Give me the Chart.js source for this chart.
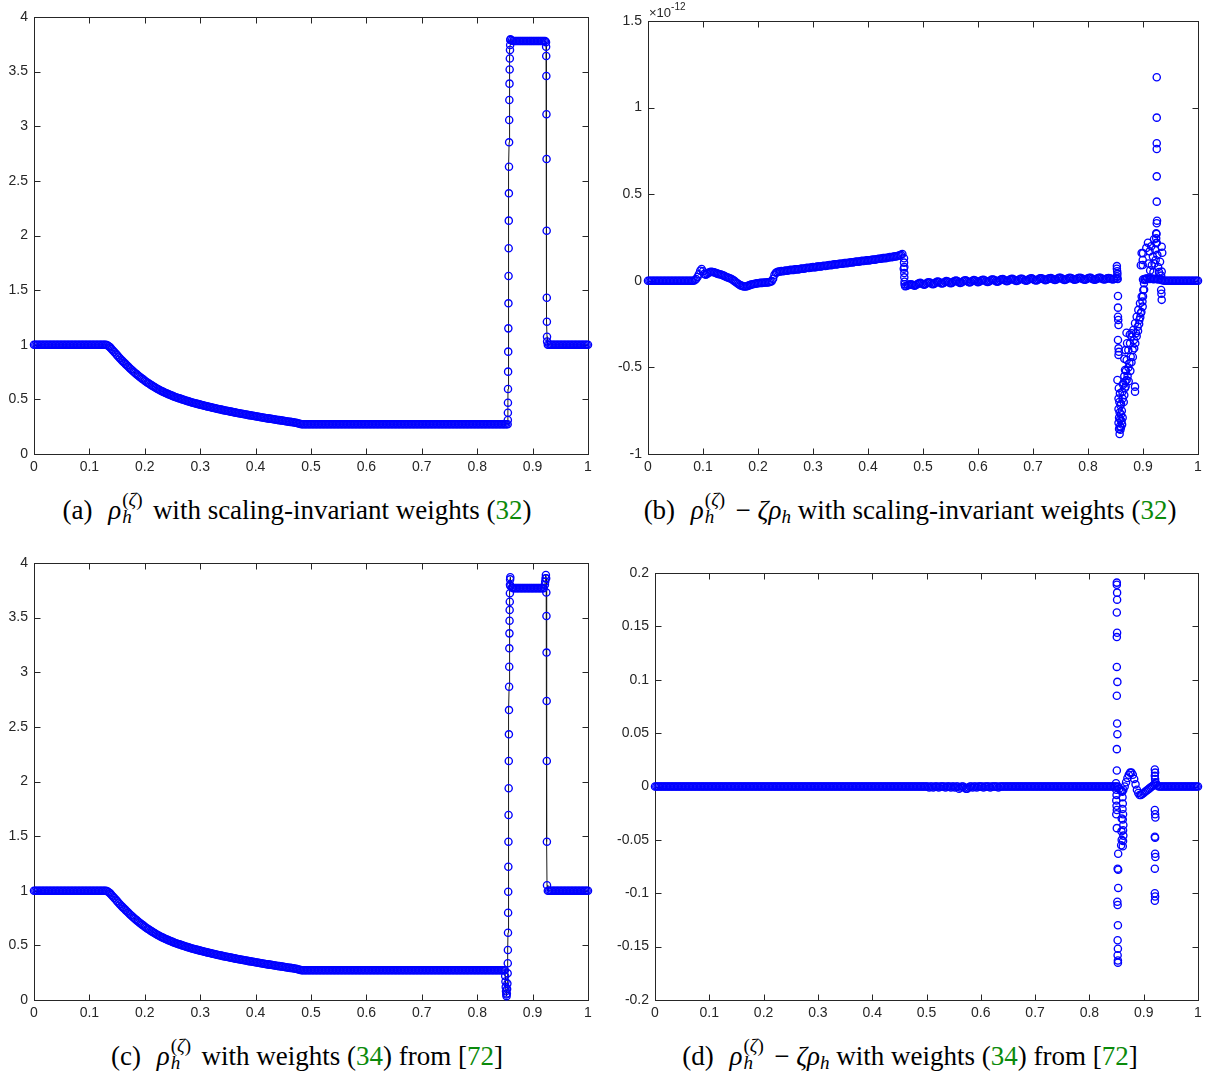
<!DOCTYPE html>
<html>
<head>
<meta charset="utf-8">
<script src="https://cdn.jsdelivr.net/npm/chart.js@4.4.1/dist/chart.umd.min.js"></script>
<style>
html, body { margin: 0; padding: 0; background: #fff; }
body { width: 1208px; height: 1080px; position: relative; overflow: hidden; }
.panel { position: absolute; }
.panel canvas { display: block; }
.cap { position: absolute; width: 600px; text-align: center; white-space: nowrap;
  font-family: "Liberation Serif", "Times New Roman", serif; font-size: 27px; line-height: 30px; color: #000; }
.cap i { font-style: italic; }
.ss { position: relative; display: inline-block; width: 25px; height: 1px; }
.ss .sp, .ss .sb { position: absolute; left: 1px; font-size: 19px; line-height: 19px; }
.ss .sp { bottom: 10.5px; }
.ss .sb { bottom: -7px; }
.lab { margin-right: 9px; }
.ref { color: #0b8a0b; }
.sub2 { font-size: 19px; line-height: 0; position: relative; top: 4px; }
</style>
</head>
<body>
<div class="panel" style="left:0;top:0"><canvas id="pa" width="600" height="480"></canvas></div>
<div class="panel" style="left:604px;top:0"><canvas id="pb" width="604" height="480"></canvas></div>
<div class="panel" style="left:0;top:546px"><canvas id="pc" width="600" height="480"></canvas></div>
<div class="panel" style="left:604px;top:546px"><canvas id="pd" width="604" height="480"></canvas></div>

<div class="cap" style="left:-3px;top:495px"><span class="lab">(a)</span> <i>ρ</i><span class="ss"><span class="sp">(<i>ζ</i>)</span><span class="sb"><i>h</i></span></span> with scaling-invariant weights (<span class="ref">32</span>)</div>
<div class="cap" style="left:610px;top:495px"><span class="lab">(b)</span> <i>ρ</i><span class="ss"><span class="sp">(<i>ζ</i>)</span><span class="sb"><i>h</i></span></span> − <i>ζρ</i><span class="sub2"><i>h</i></span> with scaling-invariant weights (<span class="ref">32</span>)</div>
<div class="cap" style="left:7px;top:1041px"><span class="lab">(c)</span> <i>ρ</i><span class="ss"><span class="sp">(<i>ζ</i>)</span><span class="sb"><i>h</i></span></span> with weights (<span class="ref">34</span>) from [<span class="ref">72</span>]</div>
<div class="cap" style="left:610px;top:1041px"><span class="lab">(d)</span> <i>ρ</i><span class="ss"><span class="sp">(<i>ζ</i>)</span><span class="sb"><i>h</i></span></span> − <i>ζρ</i><span class="sub2"><i>h</i></span> with weights (<span class="ref">34</span>) from [<span class="ref">72</span>]</div>

<script>
// ---------------------------------------------------------------------------
// Grid: nodes of the uniform mesh on [0, 1]
const meshCells = 400;
const xMesh = Array.from({ length: meshCells + 1 }, (_, i) => i / meshCells);

// Tick values and their printed labels
const xTickValues = [0, 0.1, 0.2, 0.3, 0.4, 0.5, 0.6, 0.7, 0.8, 0.9, 1];
const xTickLabels = ['0', '0.1', '0.2', '0.3', '0.4', '0.5', '0.6', '0.7', '0.8', '0.9', '1'];
const rhoTickValues = [0, 0.5, 1, 1.5, 2, 2.5, 3, 3.5, 4];
const rhoTickLabels = ['0', '0.5', '1', '1.5', '2', '2.5', '3', '3.5', '4'];
const errBTickValues = [-1, -0.5, 0, 0.5, 1, 1.5];
const errBTickLabels = ['-1', '-0.5', '0', '0.5', '1', '1.5'];
const errDTickValues = [-0.2, -0.15, -0.1, -0.05, 0, 0.05, 0.1, 0.15, 0.2];
const errDTickLabels = ['-0.2', '-0.15', '-0.1', '-0.05', '0', '0.05', '0.1', '0.15', '0.2'];

// ---------------------------------------------------------------------------
// Density on the mesh. A null marks the nodes inside a discontinuity; the
// resolved points across that jump are listed separately below.
const rhoLeftState = [
  1,1,1,1,1,1,1,1,1,1, 1,1,1,1,1,1,1,1,1,1, 1,1,1,1,1,1,1,1,1,1,
  1,1,1,1,1,1,1,1,1,1, 1,1,1,1,1,1,1,1,1,1, 1,1,1
];
// rarefaction fan, x = 0.1325 ... 0.48
const rhoFan = [
  0.995,0.987,0.976,0.962, 0.948,0.934,0.919,0.905, 0.891,0.877,0.863,0.850,
  0.837,0.825,0.812,0.800, 0.788,0.776,0.764,0.752, 0.741,0.731,0.720,0.710,
  0.700,0.690,0.681,0.671, 0.662,0.653,0.645,0.636, 0.628,0.620,0.613,0.605,
  0.598,0.591,0.584,0.577, 0.571,0.565,0.559,0.553, 0.548,0.542,0.537,0.532,
  0.527,0.522,0.518,0.513, 0.509,0.505,0.500,0.496, 0.492,0.488,0.484,0.480,
  0.476,0.472,0.469,0.465, 0.462,0.459,0.455,0.452, 0.449,0.446,0.442,0.439,
  0.436,0.433,0.430,0.427, 0.424,0.421,0.418,0.415, 0.412,0.410,0.407,0.404,
  0.401,0.399,0.396,0.393, 0.391,0.388,0.386,0.383, 0.381,0.378,0.376,0.373,
  0.371,0.368,0.366,0.363, 0.361,0.359,0.356,0.354, 0.352,0.350,0.347,0.345,
  0.343,0.341,0.338,0.336, 0.334,0.332,0.330,0.328, 0.326,0.324,0.322,0.320,
  0.318,0.316,0.314,0.312, 0.310,0.308,0.306,0.304, 0.302,0.300,0.298,0.296,
  0.294,0.292,0.290,0.288, 0.286,0.283,0.280,0.277
];
// state between the fan and the first jump (scaling-invariant weights)
const rhoLowA = [
  0.273,0.273,0.273,0.273,0.273,0.273,0.273,0.273,0.273,0.273,
  0.273,0.273,0.273,0.273,0.273,0.273,0.273,0.273,0.273,0.273,
  0.273,0.273,0.273,0.273,0.273,0.273,0.273,0.273,0.273,0.273,
  0.273,0.273,0.273,0.273,0.273,0.273,0.273,0.273,0.273,0.273,
  0.273,0.273,0.273,0.273,0.273,0.273,0.273,0.273,0.273,0.273,
  0.273,0.273,0.273,0.273,0.273,0.273,0.273,0.273,0.273,0.273,
  0.273,0.273,0.273,0.273,0.273,0.273,0.273,0.273,0.273,0.273,
  0.273,0.273,0.273,0.273,0.273,0.273,0.273,0.273,0.273,0.273,
  0.273,0.273,0.273,0.273,0.273,0.273,0.273,0.273,0.273,0.273,
  0.273,0.273,0.273,0.273,0.273,0.273,0.273,0.273,0.273,0.273,
  0.273,0.273,0.273,0.273,0.273,0.273,0.273,0.273,0.273,0.273,
  0.273,0.273,0.273,0.273,0.273,0.273,0.273,0.273,0.273,0.273,
  0.273,0.273,0.273,0.273,0.273,0.273,0.273,0.273,0.273,0.273,
  0.273,0.273,0.273,0.273,0.273,0.273,0.273,0.273,0.273,0.273,
  0.273,0.273,0.273,0.273,0.273,0.273,0.273,0.273,0.273,0.273
];
const rhoHighA = [
  3.795,3.785,3.78,3.78,3.78,3.78,3.78,3.78,3.78,3.78,3.78,3.78,3.78,
  3.78,3.78,3.78,3.78,3.78,3.78,3.78,3.78,3.78,3.78,3.78,3.78,3.78
];
const rhoRightState = [
  1,1,1,1,1,1,1,1,1,1, 1,1,1,1,1,1,1,1,1,1, 1,1,1,1,1,1,1,1,1,1
];
// points resolved across the two jumps (a)
const jumpA1X = [0.8553,0.8554,0.8555,0.8556,0.8558,0.856,0.8562,0.8564,0.8566,0.8568,0.857,
  0.8572,0.8574,0.8576,0.8578,0.858,0.8583,0.8586,0.8589,0.8592,0.8595,0.8598];
const jumpA1Y = [0.311,0.378,0.47,0.595,0.754,0.937,1.15,1.379,1.629,1.883,2.136,
  2.386,2.63,2.853,3.057,3.24,3.39,3.52,3.62,3.698,3.744,3.79];
const jumpA2X = [0.9242,0.9244,0.9246,0.9248,0.925,0.9252,0.9254,0.9256,0.9258,0.926,0.9262];
const jumpA2Y = [3.77,3.728,3.643,3.46,3.11,2.70,2.044,1.43,1.211,1.074,1.03];

// weights (34)
const rhoLowC = [
  0.273,0.273,0.273,0.273,0.273,0.273,0.273,0.273,0.273,0.273,
  0.273,0.273,0.273,0.273,0.273,0.273,0.273,0.273,0.273,0.273,
  0.273,0.273,0.273,0.273,0.273,0.273,0.273,0.273,0.273,0.273,
  0.273,0.273,0.273,0.273,0.273,0.273,0.273,0.273,0.273,0.273,
  0.273,0.273,0.273,0.273,0.273,0.273,0.273,0.273,0.273,0.273,
  0.273,0.273,0.273,0.273,0.273,0.273,0.273,0.273,0.273,0.273,
  0.273,0.273,0.273,0.273,0.273,0.273,0.273,0.273,0.273,0.273,
  0.273,0.273,0.273,0.273,0.273,0.273,0.273,0.273,0.273,0.273,
  0.273,0.273,0.273,0.273,0.273,0.273,0.273,0.273,0.273,0.273,
  0.273,0.273,0.273,0.273,0.273,0.273,0.273,0.273,0.273,0.273,
  0.273,0.273,0.273,0.273,0.273,0.273,0.273,0.273,0.273,0.273,
  0.273,0.273,0.273,0.273,0.273,0.273,0.273,0.273,0.273,0.273,
  0.273,0.273,0.273,0.273,0.273,0.273,0.273,0.273,0.273,0.273,
  0.273,0.273,0.273,0.273,0.273,0.273,0.273,0.273,0.273,0.273,
  0.273,0.273,0.273,0.273,0.273,0.273,0.273,0.273
];
const rhoHighC = [
  3.79,3.775,3.77,3.77,3.77,3.77,3.77,3.77,3.77,3.77,3.77,3.77,3.77,
  3.77,3.77,3.77,3.77,3.77,3.77,3.77,3.77,3.77,3.77,3.77,3.77
];
const jumpC1X = [0.8505,0.851,0.8515,0.852,0.8525,0.853,0.8535,0.854,0.8545,0.855,0.8552,0.8554,
  0.8556,0.8558,0.856,0.8562,0.8564,0.8566,0.8568,0.857,0.8572,0.8574,0.8576,0.8578,0.858,
  0.8582,0.8584,0.8586,0.8588,0.859,0.8592,0.8594,0.8597];
const jumpC1Y = [0.22,0.17,0.12,0.08,0.05,0.035,0.06,0.1,0.15,0.244,0.336,0.458,
  0.616,0.799,0.991,1.22,1.449,1.693,1.938,2.188,2.432,2.654,2.868,3.051,3.219,
  3.356,3.472,3.57,3.646,3.723,3.80,3.85,3.87];
const jumpC2X = [0.9222,0.9228,0.9234,0.924,0.9245,0.9248,0.925,0.9252,0.9254,0.9256,0.9258,0.926];
const jumpC2Y = [3.80,3.83,3.86,3.89,3.86,3.73,3.515,3.18,2.737,2.188,1.449,1.05];

const rhoA = [...rhoLeftState, ...rhoFan, ...rhoLowA, null, ...rhoHighA, null, ...rhoRightState];
const rhoC = [...rhoLeftState, ...rhoFan, ...rhoLowC, null, null, null, ...rhoHighC, null, null, ...rhoRightState];

// ---------------------------------------------------------------------------
// Difference rho_h^(zeta) - zeta*rho_h, scaling-invariant weights, in units of 1e-12
const errBQuiet = [
  0,0,0,0,0,0,0,0,0,0, 0,0,0,0,0,0,0,0,0,0, 0,0,0,0,0,0,0,0,0,0, 0,0,0
];
const errBHead = [
  0.000,0.003,0.010,0.022,0.038,0.058,0.068,0.055,0.040,0.035,
  0.040,0.046,0.050,0.052,0.051,0.049,0.046,0.043,0.040,0.038,
  0.036,0.033,0.030,0.026,0.022,0.019,0.016,0.013,0.009,0.004,
  -0.002,-0.008,-0.014,-0.020,-0.025,-0.028,-0.031,-0.033,-0.033,-0.031,
  -0.028,-0.025,-0.022,-0.020,-0.018,-0.017,-0.015,-0.014,-0.013,-0.012,
  -0.012,-0.011,-0.010,-0.010,-0.009,-0.008,-0.006,-0.002,0.012,0.035
];
const errBRamp = [
  0.046,0.050,0.053,0.054, 0.056,0.055,0.057,0.059, 0.058,0.059,0.062,0.063,
  0.062,0.063,0.066,0.067, 0.066,0.067,0.070,0.071, 0.070,0.071,0.074,0.075,
  0.074,0.075,0.078,0.079, 0.078,0.079,0.082,0.083, 0.082,0.083,0.086,0.087,
  0.086,0.087,0.090,0.091, 0.090,0.092,0.094,0.095, 0.094,0.096,0.098,0.099,
  0.098,0.100,0.102,0.103, 0.102,0.104,0.106,0.107, 0.106,0.108,0.110,0.111,
  0.110,0.112,0.114,0.115, 0.114,0.116,0.118,0.119, 0.118,0.120,0.122,0.123,
  0.122,0.124,0.126,0.127, 0.127,0.129,0.131,0.132, 0.131,0.133,0.135,0.137,
  0.136,0.138,0.140,0.141, 0.142,0.145,0.147,0.150, 0.155
];
const errBFlat = [
  -0.032,-0.030,-0.026,-0.022,-0.020,-0.022,-0.026,-0.028,-0.024,-0.018,
  -0.014,-0.012,-0.016,-0.020,-0.022,-0.018,-0.012,-0.008,-0.010,-0.016,
  -0.020,-0.018,-0.012,-0.006,-0.004,-0.008,-0.014,-0.016,-0.012,-0.006,
  -0.002,-0.004,-0.010,-0.014,-0.012,-0.006,-0.001,0.002,-0.002,-0.008,
  -0.012,-0.010,-0.004,0.001,0.003,-0.001,-0.007,-0.010,-0.006,0.000,
  0.004,0.002,-0.004,-0.008,-0.006,0.000,0.005,0.006,0.002,-0.004,
  -0.007,-0.004,0.002,0.007,0.008,0.004,-0.002,-0.005,-0.002,0.004,
  0.009,0.010,0.006,0.000,-0.003,0.000,0.006,0.010,0.011,0.007,
  0.002,-0.001,0.002,0.008,0.012,0.012,0.008,0.003,0.001,0.004,
  0.009,0.013,0.014,0.010,0.005,0.002,0.004,0.009,0.014,0.015,
  0.012,0.007,0.004,0.006,0.011,0.015,0.016,0.012,0.007,0.005,
  0.008,0.013,0.017,0.017,0.013,0.008,0.005,0.007,0.012,0.016,
  0.018,0.015,0.010,0.006,0.007,0.011,0.016,0.018,0.016,0.011,
  0.007,0.006,0.010,0.015,0.018,0.017,0.012,0.008,0.006,0.009,
  0.014,0.017,0.017,0.013,0.009,0.007,0.010,0.014,0.016,0.014,
  0.010,0.008,0.011,0.015,0.012
];
const errBGap = [null,null,null,null,null,null,null,null,null,null,null,null,null,null,null,null,null,null];
const errBTail = [
  0.008,0.010,0.012,0.015,0.012,0.010,0.014,0.011,0.009,0.012,0.010,0.008,0.010,0.006,0.004,0.002,
  0,0,0,0,0,0,0,0,0,0, 0,0,0,0,0,0,0,0,0,0, 0,0,0,0,0
];
const errB = [...errBQuiet, ...errBHead, ...errBRamp, 0.07, ...errBFlat, ...errBGap, ...errBTail];

// scattered values near the two jumps
const errBSpikeX = [
  0.4655,0.4655,0.466,0.466,0.466,0.4665,0.4665,
  0.8525,0.8525,0.853,0.8535,0.853,0.854,0.8545,0.8545,0.8545,0.855,0.8555,0.8545,0.8555,0.856,0.8555,0.8535,
  0.856,0.858,0.8555,0.857,0.859,0.8555,0.8575,0.86,0.8565,0.8585,0.861,0.8555,0.858,0.86,0.8565,0.859,0.8575,
  0.862,0.863,0.8615,0.86,0.863,0.8625,0.865,0.866,0.864,0.867,0.868,0.866,0.869,
  0.8642,0.8673,0.8703,0.8703,0.8733,0.8752,0.8764,0.8776,0.8794,0.8812,0.8824,0.8836,0.8855,0.8855,
  0.8855,0.8873,0.8885,0.8903,0.8915,0.8933,0.8945,0.8958,0.8976,0.8994,0.9006,0.9018,0.9036,
  0.8794,0.870,0.876,0.866,0.868,0.871,0.8735,0.872,0.8685,0.874,0.877,0.879,0.8815,0.884,0.886,
  0.8885,0.891,0.893,0.895,0.897,0.899,0.900,0.902,
  0.8975,0.896,0.8995,0.906,0.909,0.912,0.915,0.918,0.920,0.922,0.910,0.913,0.916,0.919,0.921,0.923,
  0.9245,0.925,0.926,0.9275,0.929,0.931,
  0.925,0.925,0.925,0.925,0.925,0.925,0.9255,0.925,0.924,0.924,0.924,
  0.934,0.935,0.934,0.933,0.933,0.9335,0.934,0.900,0.8995
];
const errBSpikeY = [
  0.13,0.105,0.08,0.045,0.02,-0.005,-0.02,
  0.085,0.07,0.055,0.04,0.025,0.01,-0.088,-0.155,-0.207,-0.226,-0.255,-0.342,-0.39,-0.41,-0.428,-0.573,
  -0.62,-0.65,-0.68,-0.70,-0.72,-0.74,-0.76,-0.77,-0.79,-0.80,-0.81,-0.82,-0.84,-0.845,-0.855,-0.86,-0.885,
  -0.83,-0.79,-0.75,-0.71,-0.68,-0.64,-0.70,-0.66,-0.60,-0.62,-0.58,-0.55,-0.52,
  -0.592,-0.515,-0.573,-0.457,-0.40,-0.476,-0.361,-0.438,-0.322,-0.40,-0.284,-0.342,-0.611,-0.64,
  -0.245,-0.303,-0.207,-0.265,-0.168,-0.226,-0.130,-0.187,-0.091,-0.149,-0.053,-0.014,0.005,
  -0.303,-0.30,-0.31,-0.45,-0.40,-0.36,-0.50,-0.55,-0.61,-0.58,-0.52,-0.47,-0.44,-0.39,-0.36,
  -0.32,-0.29,-0.25,-0.21,-0.18,-0.12,-0.09,-0.05,
  0.16,0.09,0.12,0.19,0.22,0.17,0.20,0.14,0.24,0.18,0.10,0.06,0.09,0.05,0.10,0.12,
  0.27,0.22,0.15,0.08,0.05,0.11,
  1.175,0.942,0.794,0.761,0.603,0.457,0.347,0.332,0.274,0.245,0.217,
  0.197,0.162,0.053,0.03,-0.053,-0.075,-0.11,0.159,0.091
];

// ---------------------------------------------------------------------------
// Difference rho_h^(zeta) - zeta*rho_h, weights (34)
const errDQuiet = [
  0,0,0,0,0,0,0,0,0,0,0,0,0,0,0,0,0,0,0,0,
  0,0,0,0,0,0,0,0,0,0,0,0,0,0,0,0,0,0,0,0,
  0,0,0,0,0,0,0,0,0,0,0,0,0,0,0,0,0,0,0,0,
  0,0,0,0,0,0,0,0,0,0,0,0,0,0,0,0,0,0,0,0,
  0,0,0,0,0,0,0,0,0,0,0,0,0,0,0,0,0,0,0,0,
  0,0,0,0,0,0,0,0,0,0,0,0,0,0,0,0,0,0,0,0,
  0,0,0,0,0,0,0,0,0,0,0,0,0,0,0,0,0,0,0,0,
  0,0,0,0,0,0,0,0,0,0,0,0,0,0,0,0,0,0,0,0,
  0,0,0,0,0,0,0,0,0,0,0,0,0,0,0,0,0,0,0,0,
  0,0,0,0,0,0,0,0,0,0,0,0,0,0,0,0,0,0,0,0,
  0,0,-0.001,0,0,-0.001,0,0,0,-0.001,0,0,0,0,-0.001,0,0,0,-0.001,0,
  0,-0.001,0,0,-0.002,-0.001,0,0,-0.001,-0.002,-0.002,-0.001,0,0,-0.001,0,0,-0.001,0,0,
  0,0,-0.001,0,0,0,0,-0.001,0,0,0,0,0,-0.001,0,0,0,0,0,0,
  0,0,0,0,0,0,0,0,0,0,0,0,0,0,0,0,0,0,0,0,
  0,0,0,0,0,0,0,0,0,0,0,0,0,0,0,0,0,0,0,0,
  0,0,0,0,0,0,0,0,0,0,0,0,0,0,0,0,0,0,0,0,
  0,0,0,0,0,0,0,0,0,0,0,0,0,0,0,0,0,0,0,0
];
const errDWave = [
  0.0,0.0,-0.002,-0.004,-0.004,-0.003,0.0,0.004,0.008,0.011,0.013,
  0.013,0.011,0.007,0.002,-0.003,-0.006,-0.008,-0.008,-0.007,-0.006,-0.005,
  -0.004,-0.003,-0.002,-0.001,0.0,0.001,0.002,0.003,0.001,0.0,0.0
];
const errDTail = [0,0,0,0,0,0,0,0,0,0,0,0,0,0,0,0,0,0,0,0,0,0,0,0,0,0,0,0];
const errD = [...errDQuiet, ...errDWave, ...errDTail];

const errDSpikeX = [
  0.8505,0.8505,0.851,0.851,0.8505,0.851,0.8505,0.8505,0.8515,0.8505,0.851,0.8515,0.8505,0.8505,
  0.849,0.8495,0.850,0.8495,0.850,0.8505,0.8495,
  0.8505,0.853,0.852,0.853,0.853,0.8515,0.852,0.8525,0.852,0.8525,0.852,0.8525,0.8525,
  0.8605,0.861,0.8615,0.861,0.862,0.8615,0.8625,0.862,0.8625,0.862,0.8615,0.8595,0.859,0.8595,0.8585,
  0.9205,0.921,0.9205,0.921,0.9215,0.9205,0.921,0.9215,0.9205,0.921,0.921,0.9215,0.9205,0.9205,0.921,0.9205
];
const errDSpikeY = [
  0.191,0.189,0.1816,0.175,0.163,0.144,0.140,0.112,0.098,0.085,0.059,0.049,0.035,0.015,
  0.003,-0.003,-0.008,-0.013,-0.018,-0.022,-0.026,
  -0.039,-0.063,-0.077,-0.078,-0.095,-0.108,-0.111,-0.13,-0.144,-0.152,-0.158,-0.163,-0.165,
  -0.005,-0.01,-0.016,-0.021,-0.026,-0.031,-0.036,-0.041,-0.046,-0.051,-0.056,-0.03,-0.042,-0.05,-0.055,
  0.016,0.013,0.010,0.007,0.004,-0.022,-0.026,-0.029,-0.047,-0.048,-0.063,-0.066,-0.077,-0.1,-0.103,-0.107
];

// ---------------------------------------------------------------------------
[['rhoA', rhoA], ['rhoC', rhoC], ['errB', errB], ['errD', errD]].forEach(([n, a]) => {
  if (a.length !== xMesh.length) throw new Error(n + ' has ' + a.length + ' nodes');
});

function meshPoints(ys) {
  const pts = [];
  ys.forEach((y, i) => { if (y !== null) pts.push({ x: xMesh[i], y }); });
  return pts;
}
function pairPoints(xs, ys) {
  return xs.map((x, i) => ({ x, y: ys[i] }));
}
// polyline through the mesh values, threading each jump in where the nulls are
function profilePath(ys, jumps) {
  const pts = [];
  let k = 0;
  ys.forEach((y, i) => {
    if (y === null) {
      if (i > 0 && ys[i - 1] !== null && k < jumps.length) pts.push(...jumps[k++]);
    } else {
      pts.push({ x: xMesh[i], y });
    }
  });
  return pts;
}
function tickLabel(values, labels) {
  return (v) => { const k = values.findIndex(t => Math.abs(t - v) < 1e-9); return k < 0 ? '' : labels[k]; };
}

const AXIS = '#262626';
const TICK_FONT = { family: '"Liberation Sans", Arial, Helvetica, sans-serif', size: 14 };

// box around the plot area with inward tick marks on all four sides
const framePlugin = {
  id: 'frame',
  beforeDatasetsDraw(chart) {
    const { ctx, chartArea: a, scales } = chart;
    const L = Math.round(a.left) + 0.5, R = Math.round(a.right) + 0.5;
    const T = Math.round(a.top) + 0.5, B = Math.round(a.bottom) + 0.5;
    const len = 6;
    ctx.save();
    ctx.strokeStyle = AXIS;
    ctx.lineWidth = 1;
    ctx.beginPath();
    scales.x.ticks.forEach(t => {
      const p = Math.round(scales.x.getPixelForValue(t.value)) + 0.5;
      ctx.moveTo(p, B); ctx.lineTo(p, B - len);
      ctx.moveTo(p, T); ctx.lineTo(p, T + len);
    });
    scales.y.ticks.forEach(t => {
      const p = Math.round(scales.y.getPixelForValue(t.value)) + 0.5;
      ctx.moveTo(L, p); ctx.lineTo(L + len, p);
      ctx.moveTo(R, p); ctx.lineTo(R - len, p);
    });
    ctx.stroke();
    ctx.strokeRect(L, T, R - L, B - T);
    ctx.restore();
  },
  afterDraw(chart, args, opts) {
    if (!opts || !opts.exponent) return;
    const { ctx, chartArea: a } = chart;
    ctx.save();
    ctx.fillStyle = AXIS;
    ctx.textBaseline = 'alphabetic';
    ctx.textAlign = 'left';
    ctx.font = '13px "Liberation Sans", Arial, sans-serif';
    const base = '\u00d710';
    ctx.fillText(base, a.left + 1, a.top - 4);
    const w = ctx.measureText(base).width;
    ctx.font = '10px "Liberation Sans", Arial, sans-serif';
    ctx.fillText(opts.exponent, a.left + 1 + w, a.top - 11);
    ctx.restore();
  }
};

function markers(points) {
  return {
    data: points, showLine: false, clip: false, order: 1,
    pointStyle: 'circle', pointRadius: 3.6, pointHoverRadius: 3.6,
    pointBorderWidth: 1.35, pointBorderColor: '#0000ff', pointBackgroundColor: 'rgba(0,0,0,0)'
  };
}
function profileLine(points) {
  return {
    data: points, showLine: true, clip: false, order: 2, tension: 0,
    pointRadius: 0, pointHoverRadius: 0, borderColor: '#1a1a1a', borderWidth: 1
  };
}

function makePanel(id, cfg) {
  return new Chart(document.getElementById(id), {
    type: 'scatter',
    data: { datasets: cfg.datasets },
    options: {
      responsive: false, animation: false, devicePixelRatio: 1, events: [],
      layout: { padding: { left: 0, right: cfg.padRight, top: cfg.padTop, bottom: 0 } },
      plugins: { legend: { display: false }, tooltip: { enabled: false }, frame: { exponent: cfg.exponent || null } },
      scales: {
        x: {
          type: 'linear', min: 0, max: 1,
          border: { display: false }, grid: { display: false, drawTicks: false },
          ticks: { padding: 5, color: AXIS, font: TICK_FONT, maxRotation: 0, minRotation: 0, autoSkip: false,
                   callback: tickLabel(xTickValues, xTickLabels) },
          afterBuildTicks: s => { s.ticks = xTickValues.map(v => ({ value: v })); },
          afterFit: s => { s.height = cfg.xAxisHeight; }
        },
        y: {
          type: 'linear', min: cfg.yMin, max: cfg.yMax,
          border: { display: false }, grid: { display: false, drawTicks: false },
          ticks: { padding: 6, color: AXIS, font: TICK_FONT, autoSkip: false,
                   callback: tickLabel(cfg.yTicks, cfg.yLabels) },
          afterBuildTicks: s => { s.ticks = cfg.yTicks.map(v => ({ value: v })); },
          afterFit: s => { s.width = cfg.yAxisWidth; }
        }
      }
    },
    plugins: [framePlugin]
  });
}

const jumpsA = [pairPoints(jumpA1X, jumpA1Y), pairPoints(jumpA2X, jumpA2Y)];
const jumpsC = [pairPoints(jumpC1X, jumpC1Y), pairPoints(jumpC2X, jumpC2Y)];

makePanel('pa', {
  datasets: [profileLine(profilePath(rhoA, jumpsA)), markers([...meshPoints(rhoA), ...jumpsA[0], ...jumpsA[1]])],
  yMin: 0, yMax: 4, yTicks: rhoTickValues, yLabels: rhoTickLabels,
  yAxisWidth: 34, xAxisHeight: 26, padRight: 12, padTop: 17
});
makePanel('pb', {
  datasets: [markers([...meshPoints(errB), ...pairPoints(errBSpikeX, errBSpikeY)])],
  yMin: -1, yMax: 1.5, yTicks: errBTickValues, yLabels: errBTickLabels,
  yAxisWidth: 44, xAxisHeight: 26, padRight: 10, padTop: 21, exponent: '-12'
});
makePanel('pc', {
  datasets: [profileLine(profilePath(rhoC, jumpsC)), markers([...meshPoints(rhoC), ...jumpsC[0], ...jumpsC[1]])],
  yMin: 0, yMax: 4, yTicks: rhoTickValues, yLabels: rhoTickLabels,
  yAxisWidth: 34, xAxisHeight: 26, padRight: 12, padTop: 17
});
makePanel('pd', {
  datasets: [markers([...meshPoints(errD), ...pairPoints(errDSpikeX, errDSpikeY)])],
  yMin: -0.2, yMax: 0.2, yTicks: errDTickValues, yLabels: errDTickLabels,
  yAxisWidth: 51, xAxisHeight: 26, padRight: 10, padTop: 27
});
</script>
</body>
</html>
